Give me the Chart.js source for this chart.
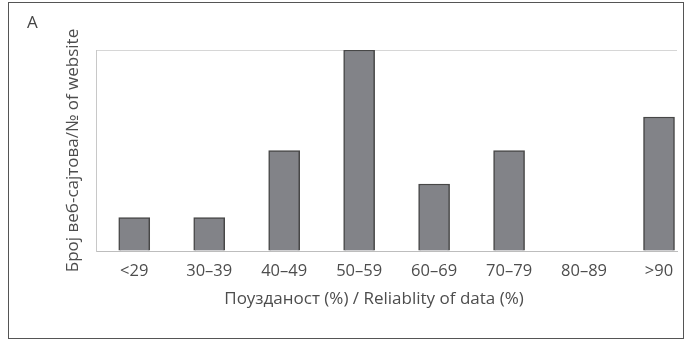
<!DOCTYPE html>
<html>
<head>
<meta charset="utf-8">
<script src="https://cdn.jsdelivr.net/npm/chart.js@4.4.1/dist/chart.umd.min.js"></script>
<style>
  html, body { margin: 0; padding: 0; background: #fff; }
  #wrap { position: relative; width: 690px; height: 346px; }
  #frame { position: absolute; left: 8px; top: 2px; width: 674px; height: 335px; border: 1.5px solid #555; }
  #chart { position: absolute; left: 0; top: 0; }
</style>
</head>
<body>
<div id="wrap">
  <div id="frame"></div>
  <canvas id="chart" width="690" height="346"></canvas>
</div>
<script>
// categories and counts
const categories = ['<29', '30–39', '40–49', '50–59', '60–69', '70–79', '80–89', '>90'];
const websiteCounts = [1, 1, 3, 6, 2, 3, 0, 4];

const xTitle = 'Поузданост (%) / Reliablity of data (%)';
const yTitle = 'Број веб-сајтова/№ of website';
const panelLabel = 'A';

const textColor = '#4d4d4d';
const fontFamily = '"Open Sans", "Noto Sans", sans-serif';

// bars are indexed 0..7 on a numeric axis; the original leaves more room
// on the left than on the right, so the range is not symmetric
const xMin = -0.51;
const xMax = 7.24;

const barData = categories.map((c, i) => ({ x: i, y: websiteCounts[i] }));

// panel letter and the x axis title (sits a bit left of centre in the original)
const labelsPlugin = {
    id: 'extraLabels',
    afterDraw(chart) {
        const ctx = chart.ctx;
        ctx.save();
        ctx.fillStyle = '#444';
        ctx.textBaseline = 'middle';
        ctx.font = '17px ' + fontFamily;
        ctx.fillText(panelLabel, 27, 23);
        ctx.fillStyle = textColor;
        ctx.textAlign = 'center';
        ctx.fillText(xTitle, 374, 299);
        ctx.restore();
    }
};

new Chart(document.getElementById('chart'), {
    type: 'bar',
    data: {
        datasets: [{
            data: barData,
            backgroundColor: '#828388',
            borderColor: '#474747',
            borderWidth: 1.5,
            barThickness: 31
        }]
    },
    options: {
        responsive: false,
        animation: false,
        layout: { padding: { left: 0, top: 50, right: 13, bottom: 0 } },
        plugins: {
            legend: { display: false },
            tooltip: { enabled: false }
        },
        scales: {
            x: {
                type: 'linear',
                offset: false,
                min: xMin,
                max: xMax,
                grid: { display: false },
                border: { display: true, color: '#bdbdbd', width: 1 },
                ticks: {
                    stepSize: 1,
                    includeBounds: false,
                    autoSkip: false,
                    maxRotation: 0,
                    color: textColor,
                    font: { family: fontFamily, size: 16.5 },
                    padding: 2,
                    callback: (v) => Number.isInteger(v) ? categories[v] : ''
                },
                afterFit(scale) { scale.height = 95; }
            },
            y: {
                min: 0,
                max: 6,
                ticks: { display: false, stepSize: 6 },
                grid: { color: '#d6d6d6', drawTicks: false, lineWidth: 1 },
                border: { display: true, color: '#c8c8c8', width: 1 },
                title: {
                    display: true,
                    text: yTitle,
                    color: textColor,
                    font: { family: fontFamily, size: 17 },
                    padding: { top: 63, bottom: 0 }
                },
                afterFit(scale) { scale.width = 96; }
            }
        }
    },
    plugins: [labelsPlugin]
});
</script>
</body>
</html>
